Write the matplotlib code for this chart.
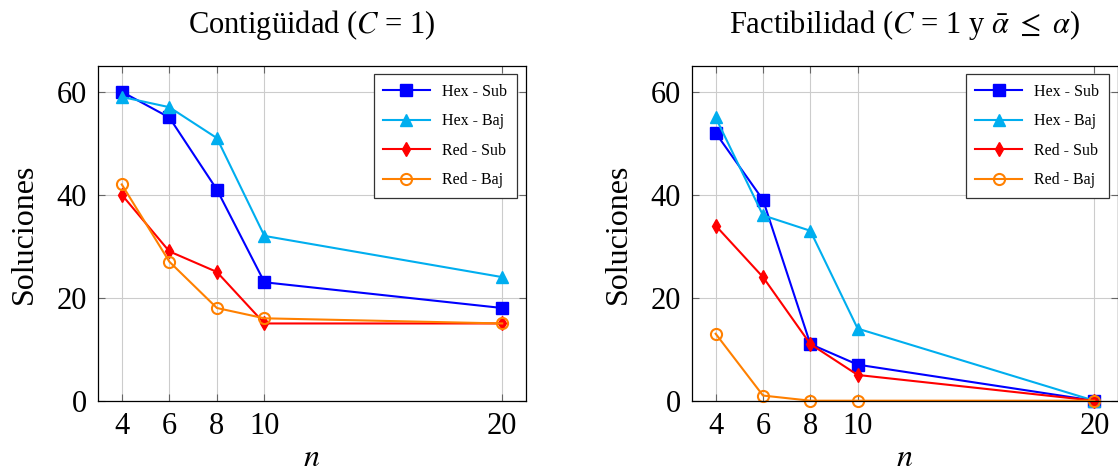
import matplotlib
matplotlib.use("Agg")
import matplotlib.pyplot as plt

plt.rcParams['font.family'] = ['Liberation Serif', 'DejaVu Serif']
plt.rcParams['mathtext.fontset'] = 'stix'

n = [4, 6, 8, 10, 20]
labels = ['Hex - Sub', 'Hex - Baj', 'Red - Sub', 'Red - Baj']

# Contigüidad
cont_hex_sub = [60, 55, 41, 23, 18]
cont_hex_baj = [59, 57, 51, 32, 24]
cont_red_sub = [40, 29, 25, 15, 15]
cont_red_baj = [42, 27, 18, 16, 15]

# Factibilidad
fact_hex_sub = [52, 39, 11, 7, 0]
fact_hex_baj = [55, 36, 33, 14, 0]
fact_red_sub = [34, 24, 11, 5, 0]
fact_red_baj = [13, 1, 0, 0, 0]

styles = [
    dict(color='#0000ff', marker='s', markersize=9, markerfacecolor='#0000ff'),
    dict(color='#00aeef', marker='^', markersize=8, markerfacecolor='#00aeef'),
    dict(color='#ff0000', marker='d', markersize=7, markerfacecolor='#ff0000'),
    dict(color='#ff8000', marker='o', markersize=8, markerfacecolor='none', markeredgewidth=1.5),
]

fig = plt.figure(figsize=(11.18, 4.74), dpi=100)
ax1 = fig.add_axes([98/1118, 1-400.7/474, 428/1118, 334.7/474])
ax2 = fig.add_axes([692/1118, 1-400.7/474, 426/1118, 334.7/474])

panels = [
    (ax1, [cont_hex_sub, cont_hex_baj, cont_red_sub, cont_red_baj], r'Contigüidad ($C$ = 1)'),
    (ax2, [fact_hex_sub, fact_hex_baj, fact_red_sub, fact_red_baj],
     r'Factibilidad ($C$ = 1 y $\bar{\alpha}$ $\leq$ $\alpha$)'),
]

for ax, series, title in panels:
    for vals, lab, st in zip(series, labels, styles):
        ax.plot(n, vals, label=lab, linewidth=1.5, clip_on=False, **st)
    ax.set_xlim(3, 21)
    ax.set_ylim(0, 65)
    ax.set_xticks(n)
    ax.set_yticks([0, 20, 40, 60])
    ax.grid(True, color='#cccccc', linewidth=0.8)
    ax.set_axisbelow(True)
    ax.tick_params(direction='in', top=True, right=True, labelsize=22, length=5,
                   color='#666666', pad=8)
    ax.set_xlabel('$n$', fontsize=23, labelpad=2)
    ax.set_ylabel('Soluciones', fontsize=23, labelpad=13)
    ax.set_title(title, fontsize=22, pad=24)
    for sp in ax.spines.values():
        sp.set_linewidth(0.9)
    leg = ax.legend(loc='upper right', fontsize=11.5, fancybox=False, framealpha=1,
                    edgecolor='#333333', borderpad=0.6, labelspacing=0.85,
                    handlelength=2.9, borderaxespad=0,
                    bbox_to_anchor=(0.979, 0.976))
    leg.get_frame().set_linewidth(0.9)

fig.savefig('out.png', dpi=100)
